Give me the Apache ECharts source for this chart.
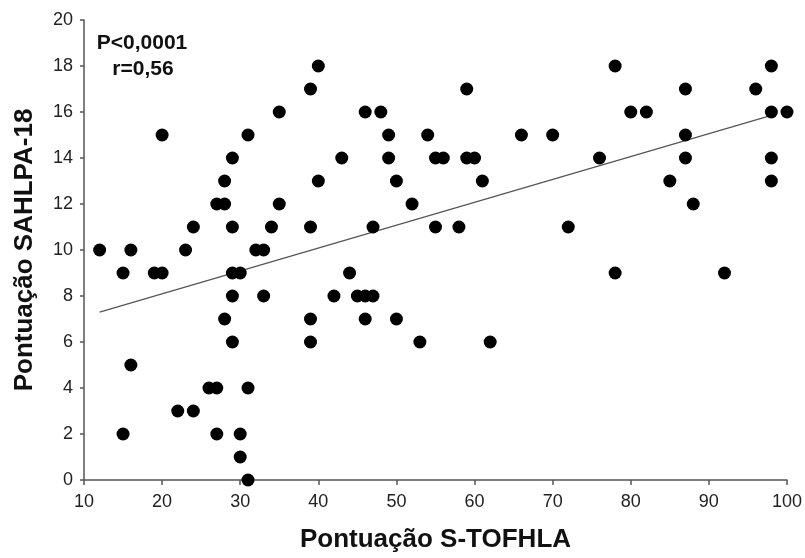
<!DOCTYPE html>
<html>
<head>
<meta charset="utf-8">
<script src="https://cdn.jsdelivr.net/npm/echarts@6/dist/echarts.min.js"></script>
<style>
html,body{margin:0;padding:0;background:#fff;}
#c{width:805px;height:558px;}
</style>
</head>
<body>
<div id="c"></div>
<script>
// S-TOFHLA scores (x) and SAHLPA-18 scores (y)
const stofhla = [12,15,16,15,16,19,20,20,22,24,23,24,26,27,27,28,28,29,28,27,29,29,30,29,29,30,30,31,31,31,32,33,33,34,35,35,39,40,39,39,39,40,43,44,42,45,46,47,46,46,48,47,49,49,50,50,52,53,54,55,56,55,58,59,59,60,61,62,66,70,72,76,78,78,80,82,85,87,87,87,88,92,96,98,98,100,98,98];
const sahlpa  = [10,9,10,2,5,9,9,15,3,3,10,11,4,4,12,12,13,14,7,2,11,9,9,8,6,2,1,0,4,15,10,10,8,11,12,16,17,18,11,7,6,13,14,9,8,8,8,8,7,16,16,11,15,14,13,7,12,6,15,14,14,11,11,17,14,14,13,6,15,15,11,14,18,9,16,16,13,17,15,14,12,9,17,18,16,16,14,13];
// Regression line endpoints
const trendX = [12, 98];
const trendY = [7.3, 15.85];
const xTicks = [10,20,30,40,50,60,70,80,90,100];
const yTicks = [0,2,4,6,8,10,12,14,16,18,20];
const xTitle = 'Pontuação S-TOFHLA';
const yTitle = 'Pontuação SAHLPA-18';
const statLines = ['P<0,0001', 'r=0,56'];

const points = stofhla.map((x, i) => [x, sahlpa[i]]);
const trend = trendX.map((x, i) => [x, trendY[i]]);

const FONT = "'Liberation Sans', Arial, sans-serif";
const chart = echarts.init(document.getElementById('c'), null, {renderer: 'canvas'});
chart.setOption({
  backgroundColor: '#ffffff',
  animation: false,
  grid: {left: 84, right: 18, top: 20, bottom: 71, containLabel: false},
  xAxis: {
    type: 'value', min: xTicks[0], max: xTicks[xTicks.length - 1], interval: 10,
    axisLine: {show: true, onZero: false, lineStyle: {color: '#555', width: 1.5}},
    axisTick: {show: true, inside: false, length: 5, lineStyle: {color: '#555', width: 1.5}},
    axisLabel: {color: '#222', fontSize: 18, fontFamily: FONT, margin: 13},
    splitLine: {show: false},
    name: xTitle, nameLocation: 'middle', nameGap: 47,
    nameTextStyle: {color: '#111', fontSize: 26, fontWeight: 'bold', fontFamily: FONT}
  },
  yAxis: {
    type: 'value', min: yTicks[0], max: yTicks[yTicks.length - 1], interval: 2,
    axisLine: {show: true, onZero: false, lineStyle: {color: '#555', width: 1.5}},
    axisTick: {show: true, inside: false, length: 4, lineStyle: {color: '#555', width: 1.5}},
    axisLabel: {color: '#222', fontSize: 18, fontFamily: FONT, margin: 11},
    splitLine: {show: false},
    name: yTitle, nameLocation: 'middle', nameGap: 46, nameRotate: 90,
    nameTextStyle: {color: '#111', fontSize: 26, fontWeight: 'bold', fontFamily: FONT}
  },
  graphic: [
    {type: 'text', x: 142, y: 33, style: {text: statLines[0], fill: '#111', font: 'bold 21px ' + FONT, textAlign: 'center'}},
    {type: 'text', x: 143, y: 59, style: {text: statLines[1], fill: '#111', font: 'bold 21px ' + FONT, textAlign: 'center'}}
  ],
  series: [
    {
      type: 'line', data: trend, symbol: 'none', silent: true, z: 1,
      lineStyle: {color: '#555', width: 1.2}
    },
    {
      type: 'scatter', data: points, symbol: 'circle', symbolSize: 13, z: 2,
      itemStyle: {color: '#000', opacity: 1}
    }
  ]
});
</script>
</body>
</html>
